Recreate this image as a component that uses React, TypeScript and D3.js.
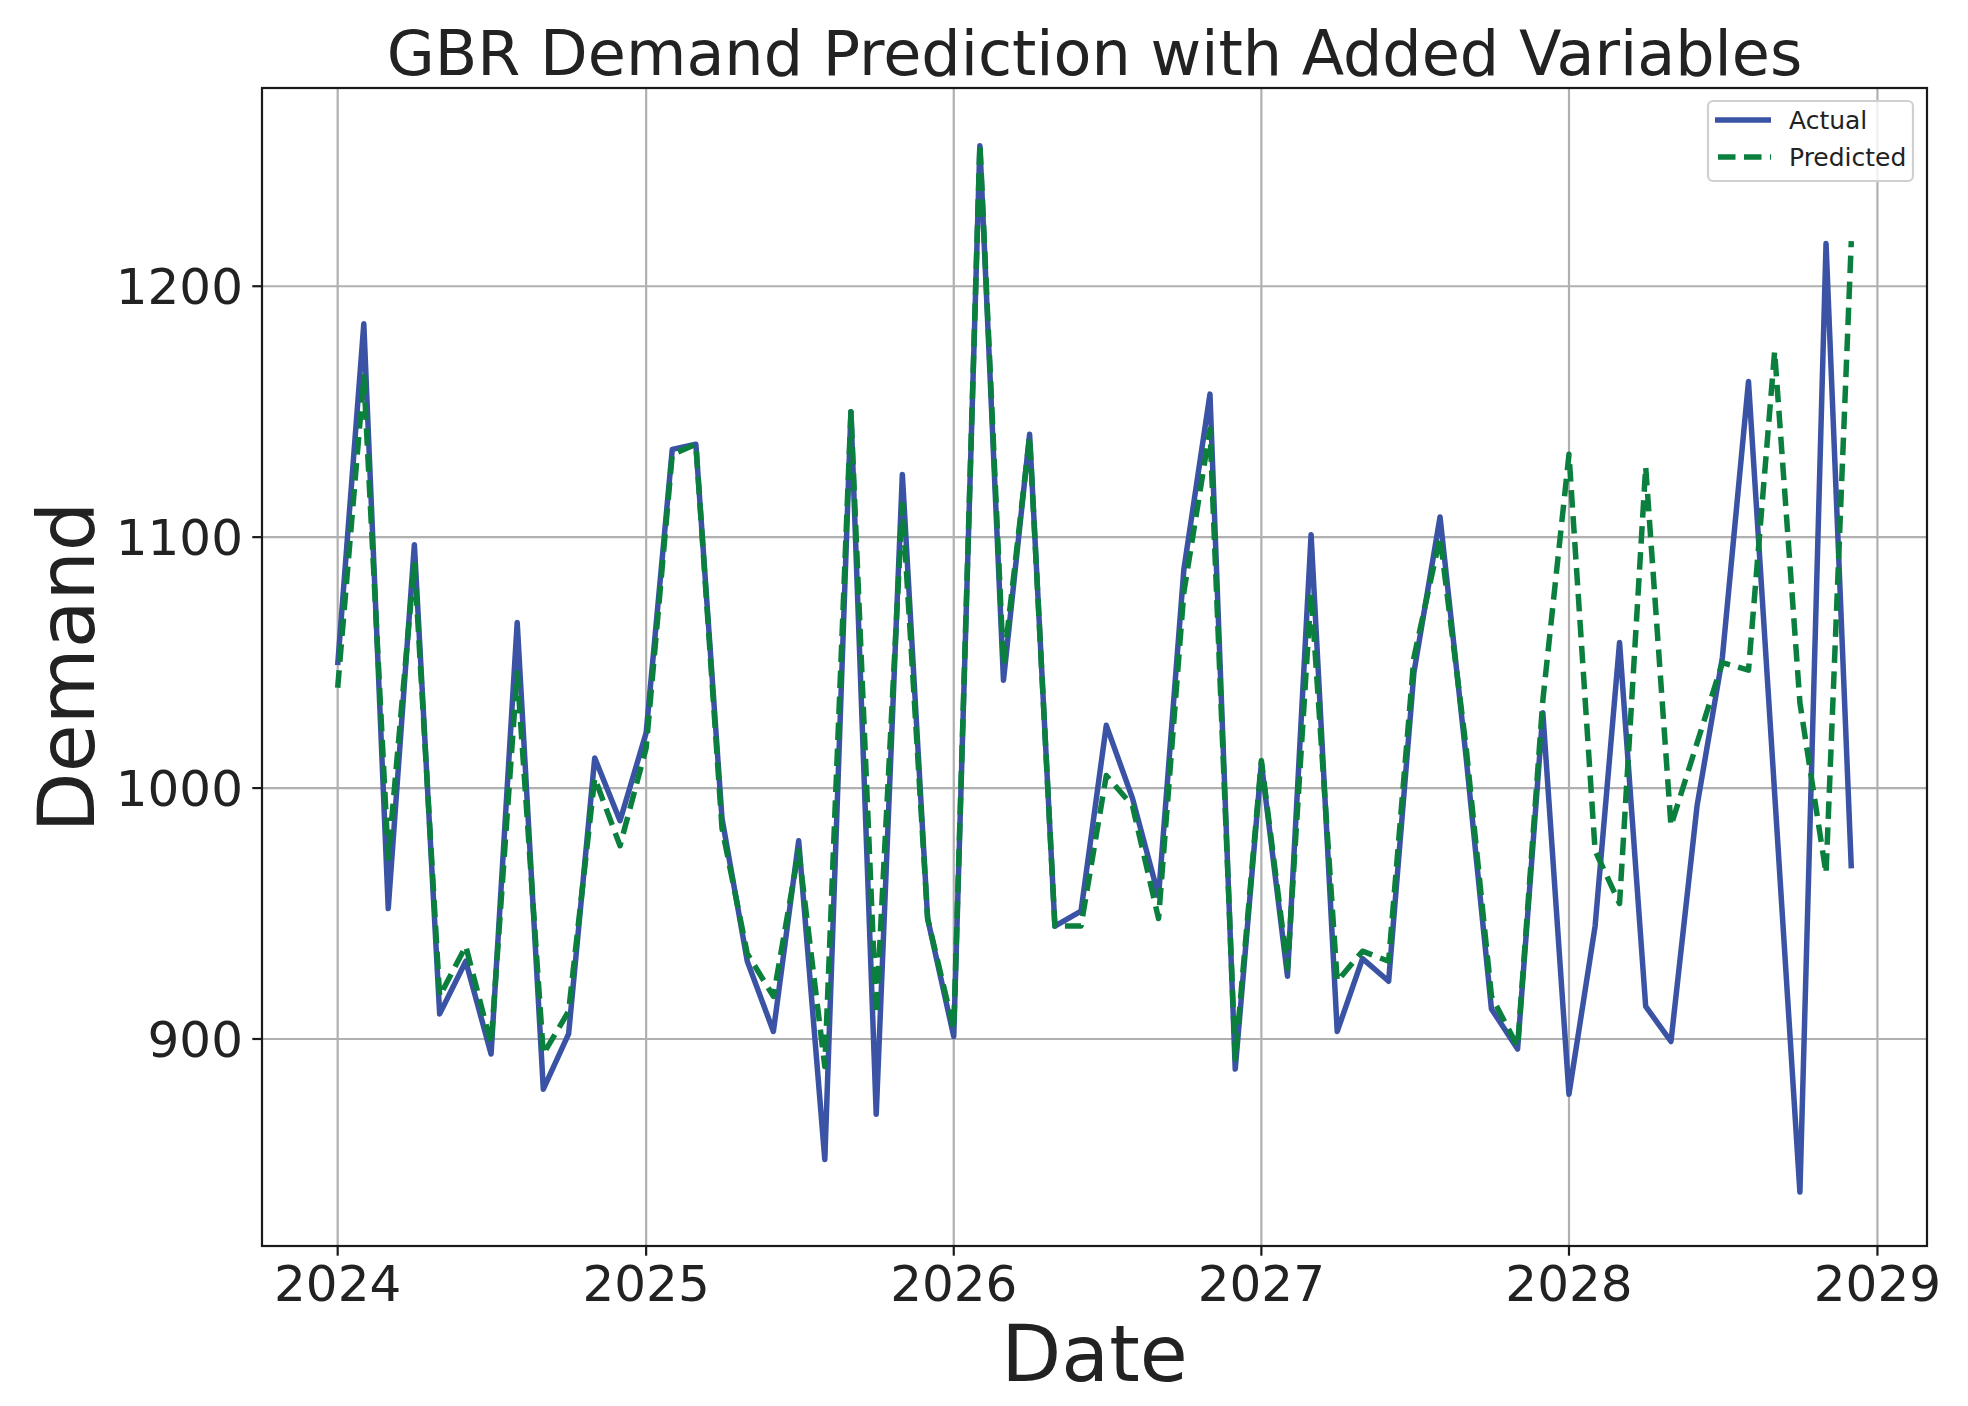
import React from "react";
import * as d3 from "d3";

const actual: number[] = [
  1049, 1185, 952, 1097, 910, 931, 894, 1066, 880, 902, 1012, 987,
  1022, 1135, 1137, 988, 931, 903, 979, 852, 1150, 870, 1125, 948,
  901, 1256, 1043, 1141, 945, 951, 1025, 996, 957, 1087, 1157, 888,
  1010, 925, 1101, 903, 932, 923, 1046, 1108, 1012, 912, 896, 1030,
  878, 945, 1058, 913, 899, 993, 1052, 1162, 998, 839, 1217, 968,
];
const predicted: number[] = [
  1040, 1164, 972, 1090, 917, 937, 898, 1046, 894, 911, 1004, 977,
  1016, 1133, 1137, 984, 934, 917, 975, 889, 1150, 910, 1113, 948,
  904, 1257, 1049, 1140, 945, 945, 1005, 993, 948, 1078, 1143, 892,
  1011, 928, 1078, 923, 935, 931, 1052, 1100, 1016, 917, 897, 1035,
  1133, 975, 954, 1128, 985, 1018, 1050, 1047, 1174, 1034, 966, 1218,
];
const dates: Date[] = actual.map((_, i) => new Date(2024, i, 1));
const yTicks: number[] = [900, 1000, 1100, 1200];
const xTickYears: number[] = [2024, 2025, 2026, 2027, 2028, 2029];
const titleText = "GBR Demand Prediction with Added Variables";
const xLabel = "Date";
const yLabel = "Demand";
const seriesNames = ["Actual", "Predicted"];

const W = 1968;
const H = 1406;
const left = 262;
const right = 1927;
const top = 88;
const bottom = 1246;
const FONT = "'DejaVu Sans', Verdana, sans-serif";
const BLUE = "#3a53a4";
const GREEN = "#0b7f3e";
const TXT = "#222222";

export default function App() {
  const first = dates[0].getTime();
  const last = dates[dates.length - 1].getTime();
  const pad = (last - first) * 0.05;
  const x = d3.scaleTime().domain([new Date(first - pad), new Date(last + pad)]).range([left, right]);
  const y = d3.scaleLinear().domain([817.5, 1279]).range([bottom, top]);

  const line = d3
    .line<number>()
    .x((_, i) => x(dates[i]))
    .y((d) => y(d));

  const xTicks = xTickYears.map((yr) => new Date(yr, 0, 1));
  const cx = (left + right) / 2;
  const cy = (top + bottom) / 2;

  return (
    <svg
      width={W}
      height={H}
      viewBox={`0 0 ${W} ${H}`}
      style={{ position: "absolute", left: 0, top: 0, background: "#fff" }}
      fontFamily={FONT}
    >
      <rect x={0} y={0} width={W} height={H} fill="#fff" />
      {/* grid */}
      <g stroke="#b0b0b0" strokeWidth={2.2}>
        {xTicks.map((d, i) => (
          <line key={"gx" + i} x1={x(d)} x2={x(d)} y1={top} y2={bottom} />
        ))}
        {yTicks.map((v, i) => (
          <line key={"gy" + i} x1={left} x2={right} y1={y(v)} y2={y(v)} />
        ))}
      </g>
      {/* lines */}
      <path d={line(actual) || ""} fill="none" stroke={BLUE} strokeWidth={5.5} strokeLinejoin="round" strokeLinecap="butt" />
      <path
        d={line(predicted) || ""}
        fill="none"
        stroke={GREEN}
        strokeWidth={5.5}
        strokeDasharray="17.5 8.5"
        strokeLinejoin="round"
      />
      {/* spines */}
      <rect x={left} y={top} width={right - left} height={bottom - top} fill="none" stroke="#1a1a1a" strokeWidth={2.2} />
      {/* x ticks */}
      {xTicks.map((d, i) => (
        <g key={"xt" + i}>
          <line x1={x(d)} x2={x(d)} y1={bottom} y2={bottom + 9.7} stroke="#1a1a1a" strokeWidth={2.2} />
          <text x={x(d)} y={1301} textAnchor="middle" fontSize={50} fill={TXT}>
            {String(xTickYears[i])}
          </text>
        </g>
      ))}
      {/* y ticks */}
      {yTicks.map((v, i) => (
        <g key={"yt" + i}>
          <line x1={left - 9.7} x2={left} y1={y(v)} y2={y(v)} stroke="#1a1a1a" strokeWidth={2.2} />
          <text x={243} y={y(v) + 18} textAnchor="end" fontSize={50} fill={TXT}>
            {String(v)}
          </text>
        </g>
      ))}
      {/* title and labels */}
      <text x={cx} y={75} textAnchor="middle" fontSize={62} fill={TXT}>
        {titleText}
      </text>
      <text x={cx} y={1381} textAnchor="middle" fontSize={78} fill={TXT}>
        {xLabel}
      </text>
      <text
        transform={`translate(94, ${cy}) rotate(-90)`}
        textAnchor="middle"
        fontSize={78}
        fill={TXT}
      >
        {yLabel}
      </text>
      {/* legend */}
      <g>
        <rect x={1708} y={101} width={205} height={80} rx={5} ry={5} fill="#fff" fillOpacity={0.8} stroke="#d0d0d0" strokeWidth={2.2} />
        <line x1={1715} x2={1771} y1={120} y2={120} stroke={BLUE} strokeWidth={5.5} />
        <line x1={1715} x2={1771} y1={157} y2={157} stroke={GREEN} strokeWidth={5.5} strokeDasharray="17.5 8.5" strokeDashoffset={-3} />
        <text x={1789} y={129} fontSize={25} fill={TXT}>
          {seriesNames[0]}
        </text>
        <text x={1789} y={166} fontSize={25} fill={TXT}>
          {seriesNames[1]}
        </text>
      </g>
    </svg>
  );
}
